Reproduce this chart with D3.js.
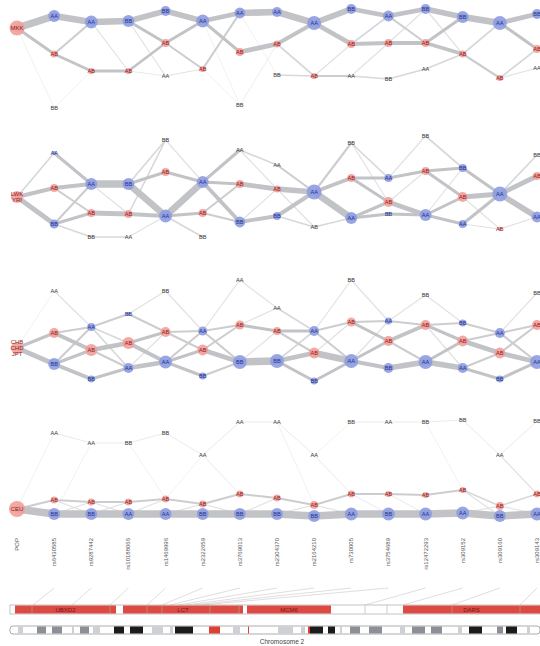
<!DOCTYPE html>
<html><head><meta charset="utf-8">
<script src="https://cdn.jsdelivr.net/npm/d3@7"></script>
<style>body{margin:0;background:#fff}svg{display:block}</style>
</head><body><svg id="c" width="540" height="646"></svg>
<script>
// ---------- DATA ----------
const snps = ["POP","rs6430585","rs9287442","rs10188066","rs1469996","rs2322659","rs3769013","rs2304370","rs2164210","rs730005","rs3754689","rs12472293","rs309152","rs309160","rs309143"];
const genotypes = ["AA","AB","BB"];
const popNames = [["MKK"],["LWK","YRI"],["CHB","CHD","JPT"],["CEU"]];
const popFreq = [0.7, 0.45, 0.45, 0.79];
const popLevel = [28, 67, 78, 109];

// vertical layout level [AA, AB, BB] for SNP columns 1..14 (null = absent)
const mkkLevel = [[16,54,108],[22,71,null],[null,71,21],[76,43,11],[21,69,null],[13,52,105],[12,44,75],[23,76,null],[76,44,9],[16,43,79],[69,43,9],[null,54,17],[23,78,null],[68,49,14]];
const mkkFreq  = [[.44,.15,0],[.52,.12,0],[0,.12,.44],[0,.2,.31],[.52,.12,0],[.37,.2,0],[.31,.15,0],[.6,.12,0],[0,.2,.31],[.37,.2,0],[0,.2,.31],[0,.15,.44],[.6,.12,0],[0,.2,.31]];
const lwkLevel = [[23,58,94],[54,83,107],[107,84,54],[86,42,10],[52,83,107],[20,54,92],[35,59,86],[62,97,null],[88,48,13],[48,72,84],[85,41,6],[94,67,38],[64,99,null],[87,46,25]];
const lwkFreq  = [[.04,.2,.25],[.44,.2,0],[0,.2,.44],[.52,.2,0],[.44,.2,0],[0,.2,.37],[0,.15,.2],[.69,0,0],[.44,.2,0],[.2,.31,.04],[.44,.2,0],[.2,.31,.2],[.69,.04,0],[.37,.2,0]];
const chbLevel = [[21,63,94],[57,80,109],[98,73,44],[92,62,21],[61,80,106],[10,55,92],[38,61,91],[61,83,111],[91,52,10],[51,71,98],[92,55,25],[98,71,53],[63,83,109],[92,55,23]];
const chbFreq  = [[0,.31,.44],[.2,.44,.15],[.31,.44,.04],[.52,.31,0],[.25,.37,.15],[0,.25,.6],[0,.2,.6],[.31,.37,.15],[.6,.25,0],[.15,.31,.31],[.6,.31,0],[.31,.37,.15],[.31,.37,.15],[.6,.31,0]];
const ceuLevel = [[33,100,114],[43,102,114],[114,102,43],[114,99,33],[55,104,114],[22,94,114],[22,98,114],[55,105,116],[114,94,22],[22,94,114],[114,95,22],[113,90,20],[55,106,116],[114,94,21]];
const ceuFreq  = [[0,.15,.44],[0,.15,.44],[.44,.15,0],[.44,.15,0],[0,.15,.44],[0,.15,.44],[0,.15,.44],[0,.2,.44],[.52,.15,0],[0,.12,.52],[.52,.12,0],[.52,.12,0],[0,.2,.44],[.52,.15,0]];

// transitions between consecutive columns: "from-to weight"
const mkkEdges = [
 "P-AA 8, P-AB 3, P-BB .5",
 "AA-AA 7, AB-AB 2.5, AB-AA 2, BB-AB .5",
 "AA-BB 7, AB-AB 3, AA-AB 1",
 "BB-BB 6, BB-AB 3, AB-AB 2.5, BB-AA 1, AB-AA .7",
 "BB-AA 6, AB-AA 3, AB-AB 2, AA-AB 1",
 "AA-AA 5, AA-AB 3, AB-AA 2, AB-BB .5, AA-BB .5",
 "AA-AA 7, AB-AB 5, BB-AB .6, AA-BB .5",
 "AA-AA 7, AB-AA 4, AB-AB 1.5, BB-AB 1.5",
 "AA-BB 6, AA-AB 5, AB-AA 2, AB-AB 1",
 "BB-AA 5, AB-AB 4, AB-AA 1.5, AA-BB 1.5, AA-AB 1",
 "AA-BB 5, AB-AB 4, AA-AB 2, BB-AA 1.5, AB-BB 1",
 "BB-BB 6, AB-AB 4, AB-BB 3, AA-AB 1.5, BB-AB 1",
 "BB-AA 7, AB-AB 2, AB-AA 1.5",
 "AA-BB 5, AA-AB 3, AB-AB 1.5, AB-AA 1"
];
const lwkEdges = [
 "P-AA 1.5, P-AB 4, P-BB 5",
 "AA-AA 3, AB-AA 4, AB-AB 2, BB-AA 2, BB-AB 3, BB-BB 1.5",
 "AA-BB 8, AB-AB 5, BB-AA 1.5, AA-AB 1",
 "BB-AA 7, BB-AB 3, AB-AA 4, AB-BB 1.5, AA-AA 1, BB-BB 1.5",
 "AA-AA 7, AB-AA 3, BB-AA 1, AA-AB 3, AA-BB 1.5",
 "AA-AA 3, AA-AB 3, AA-BB 4, AB-AB 2, AB-BB 2",
 "AB-AB 5, BB-BB 4, AA-AA 1.5, AA-AB 1, BB-AB 1",
 "AB-AA 6, BB-AA 4, AA-AA 2, BB-AB 1.5, AB-AB 1",
 "AA-AA 7, AA-AB 4, AA-BB 2, AB-AA 1.5",
 "AB-AA 3, AB-AB 3, AA-BB 3, AA-AB 3, BB-AA 1.5, BB-AB 1",
 "AB-AA 5, AA-AB 3, BB-AA 3, AA-BB 1, AB-AB 1",
 "AB-AB 3, AB-BB 3, AA-AB 3, AA-AA 3, BB-BB 1.5, AA-BB 1",
 "BB-AA 3, AB-AA 5, AA-AA 3, AA-AB 1, AB-AB 1",
 "AA-AB 5, AA-AA 6, AA-BB 1.5, AB-AA 1"
];
const chbEdges = [
 "P-AA .5, P-AB 3, P-BB 5",
 "AA-AA 1, AB-AA 2, AB-AB 4, BB-AB 3, BB-BB 4, BB-AA 2",
 "AA-BB 2, AA-AB 1.5, AB-AB 5, AB-AA 2, BB-AA 3, AA-AA 1.5",
 "BB-AB 2, AB-AB 3, AB-AA 4, AA-AA 5, BB-BB 1, AA-AB 1",
 "AB-AA 2, AB-AB 2, AA-AB 3, AA-BB 3, BB-AA 1, AA-AA 2",
 "AA-AA 1, AA-AB 2, AA-BB 2, AB-AB 2, AB-BB 5, BB-BB 2",
 "BB-BB 8, AB-AB 3, AB-AA 1, BB-AB 1, AA-AA 1",
 "BB-AB 5, BB-BB 3, AB-AA 3, AB-AB 2, AA-AA 1.5, BB-AA 1.5",
 "AA-AB 2, AA-AA 2, AB-AA 7, AB-AB 1, BB-AA 3, AA-BB 1",
 "AB-AA 2, AB-AB 3, AA-AB 3, AA-BB 4, BB-AA 1, AA-AA 1",
 "AA-AB 2, AB-AB 4, AB-AA 2, BB-AA 6, AA-BB 1",
 "AB-BB 2, AB-AB 3, AA-AB 3, AA-AA 6, BB-BB 1, AB-AA 1",
 "BB-AA 2, AB-AB 5, AB-AA 2, AA-AB 2, AA-BB 3",
 "AA-AB 2, AA-AA 2, AB-AB 2, AB-AA 5, BB-AA 3, AA-BB 1"
];
const ceuEdges = [
 "P-AA .5, P-AB 2, P-BB 8",
 "AA-AA .7, AB-AB 2, BB-BB 8, BB-AB 1, AB-BB 1, BB-AA .5",
 "AA-BB .7, AB-AB 2, BB-AA 8, AB-AA 1, BB-AB 1",
 "BB-BB .7, AB-AB 2, AA-AA 8, BB-AB .5, AA-AB 1",
 "BB-AA .7, AB-AB 2, AA-BB 8, AA-AB 1, AB-AA .5",
 "AA-AA .7, AA-AB .7, AB-AB 2, BB-BB 8, AB-BB 1",
 "AA-AA .7, AB-AB 2, BB-BB 8, BB-AB 1",
 "AA-AA .7, AB-AB 2, BB-BB 8, BB-AB 1, AA-AB .5",
 "AA-BB .5, AA-AB .7, AB-AB 2, BB-AA 8, AB-AA 1",
 "BB-AA .7, AB-AB 2, AA-BB 8, AB-BB .7",
 "AA-BB .7, AB-AB 2, BB-AA 8, AB-AA .7",
 "BB-BB .7, AB-AB 2, AA-AA 8, BB-AB .5",
 "BB-AA .7, AB-AB 1.5, AA-BB 8, AB-BB 1, AA-AB 1",
 "AA-BB .7, AA-AB 1, AB-AB 1.5, BB-AA 8, AB-AA 1"
];

// gene track & chromosome ideogram (genomic units along chromosome window)
const genes = [{name:"UBXD2",start:5,end:106},{name:"LCT",start:113,end:233},{name:"MCM6",start:237,end:321},{name:"DARS",start:393,end:530}];
const geneTicks = [22,100,137,152,200,229,355,377,442,510];
const snpGenomePos = [23,62,100,137,152,160,168,176,184,192,355,393,442,510];
const bands = [[8,13,"l"],[27,36,"g"],[42,52,"g"],[62,64,"l"],[70,79,"g"],[83,90,"l"],[104,114,"d"],[120,133,"d"],[142,153,"l"],[160,163,"l"],[165,183,"d"],[199,210,"r"],[223,230,"l"],[238,239,"r"],[268,283,"l"],[291,295,"l"],[298,300,"r"],[300,313,"d"],[318,325,"d"],[330,332,"l"],[340,350,"g"],[359,372,"g"],[390,395,"l"],[402,415,"g"],[421,432,"g"],[448,452,"l"],[459,472,"d"],[487,493,"g"],[496,507,"d"],[517,520,"l"]];
const chromName = "Chromosome 2";

// ---------- DRAW ----------
const svg = d3.select("#c");
const W = 540;
const x = d3.scalePoint(snps, [17, 537]);
const rScale = d3.scaleSqrt([0,1],[0,9]);
const wScale = d3.scaleLinear([0,8],[0.3,7.5]);
const cScale = d3.scaleLinear([0.5,2.5],["#ececec","#c2c3c7"]).clamp(true);
const panelTop = [0,130,270,400];
const panels = [
 {lev:mkkLevel, fr:mkkFreq, ed:mkkEdges},
 {lev:lwkLevel, fr:lwkFreq, ed:lwkEdges},
 {lev:chbLevel, fr:chbFreq, ed:chbEdges},
 {lev:ceuLevel, fr:ceuFreq, ed:ceuEdges}
];
const BLUE="#8e9ce2", RED="#f29f9a";
const font = "'Liberation Sans', Arial, sans-serif";

panels.forEach((p,pi)=>{
  const y = d3.scaleLinear([0,130],[panelTop[pi], panelTop[pi]+130]);
  // node table
  const nodes = {};
  nodes["0P"] = {x:x(snps[0]), y:y(popLevel[pi]), f:popFreq[pi], g:"P"};
  p.lev.forEach((col,ci)=>{
    col.forEach((lv,gi)=>{
      if(lv===null) return;
      nodes[(ci+1)+genotypes[gi]] = {x:x(snps[ci+1]), y:y(lv), f:p.fr[ci][gi], g:genotypes[gi]};
    });
  });
  const edges = [];
  p.ed.forEach((s,t)=>{
    s.split(",").forEach(e=>{
      const [pair,w] = e.trim().split(" ");
      const [a,b] = pair.split("-");
      const n1 = nodes[t+a], n2 = nodes[(t+1)+b];
      if(n1 && n2) edges.push({a:n1,b:n2,w:+w});
    });
  });
  edges.sort((m,n)=>m.w-n.w);
  const g = svg.append("g");
  g.selectAll("line").data(edges).join("line")
   .attr("x1",d=>d.a.x).attr("y1",d=>d.a.y).attr("x2",d=>d.b.x).attr("y2",d=>d.b.y)
   .attr("stroke",d=>cScale(d.w)).attr("stroke-width",d=>wScale(d.w)).attr("stroke-linecap","round");
  const nl = Object.values(nodes);
  g.selectAll("circle").data(nl.filter(d=>d.f>0)).join("circle")
   .attr("cx",d=>d.x).attr("cy",d=>d.y).attr("r",d=>Math.max(2,rScale(d.f)))
   .attr("fill",d=>(d.g==="AB"||d.g==="P")?RED:BLUE).attr("fill-opacity",0.9);
  g.selectAll("text.n").data(nl.filter(d=>d.g!=="P")).join("text").attr("class","n")
   .attr("x",d=>d.x).attr("y",d=>d.y+2).attr("text-anchor","middle")
   .attr("font-family",font).attr("font-size",5.6)
   .attr("fill",d=>d.f===0?"#3a3a3a":(d.g==="AB"?"#8e1c1c":"#24358a"))
   .text(d=>d.g);
  const pn = nodes["0P"];
  const names = popNames[pi];
  names.forEach((nm,k)=>{
    g.append("text").attr("x",pn.x).attr("y",pn.y+2+(k-(names.length-1)/2)*6)
     .attr("text-anchor","middle").attr("font-family",font).attr("font-size",6)
     .attr("fill","#8e1c1c").text(nm);
  });
});

// SNP labels
svg.append("g").selectAll("text").data(snps).join("text")
 .attr("transform",d=>`translate(${x(d)+2},538) rotate(-90)`)
 .attr("text-anchor","end").attr("font-family",font).attr("font-size",6)
 .attr("fill","#555").text(d=>d);

// genome track
const gx = d3.scaleLinear([0,530],[10,540]);
svg.append("g").selectAll("line").data(snpGenomePos).join("line")
 .attr("x1",(d,i)=>x(snps[i+1])).attr("y1",588).attr("x2",d=>gx(d)).attr("y2",605)
 .attr("stroke","#c8c8c8").attr("stroke-width",0.6);
svg.append("rect").attr("x",gx(0)).attr("y",605).attr("width",gx(530)-gx(0)).attr("height",9)
 .attr("fill","#fff").attr("stroke","#9a9a9a").attr("stroke-width",0.6);
svg.append("g").selectAll("rect").data(genes).join("rect")
 .attr("x",d=>gx(d.start)).attr("y",605.5).attr("width",d=>gx(d.end)-gx(d.start)).attr("height",8)
 .attr("fill","#db4b43");
svg.append("g").selectAll("line").data(geneTicks).join("line")
 .attr("x1",d=>gx(d)).attr("x2",d=>gx(d)).attr("y1",605.5).attr("y2",613.5)
 .attr("stroke","#a8a8a8").attr("stroke-width",0.6);
svg.append("g").selectAll("text").data(genes).join("text")
 .attr("x",d=>gx((d.start+d.end)/2)).attr("y",612).attr("text-anchor","middle")
 .attr("font-family",font).attr("font-size",6).attr("fill","#7e1414").text(d=>d.name);

// chromosome ideogram
svg.append("rect").attr("x",gx(0)).attr("y",626).attr("width",gx(530)-gx(0)).attr("height",8).attr("rx",3)
 .attr("fill","#fff").attr("stroke","#8a8a8a").attr("stroke-width",0.7);
const bandColor = {l:"#cdd0d5", g:"#8c9096", d:"#1b1b1b", r:"#dc3f36"};
svg.append("g").selectAll("rect").data(bands).join("rect")
 .attr("x",d=>gx(d[0])).attr("y",626.5).attr("width",d=>gx(d[1])-gx(d[0])).attr("height",7)
 .attr("fill",d=>bandColor[d[2]]);
svg.append("text").attr("x",282).attr("y",644).attr("text-anchor","middle")
 .attr("font-family",font).attr("font-size",6.5).attr("fill","#444").text(chromName);
</script></body></html>
